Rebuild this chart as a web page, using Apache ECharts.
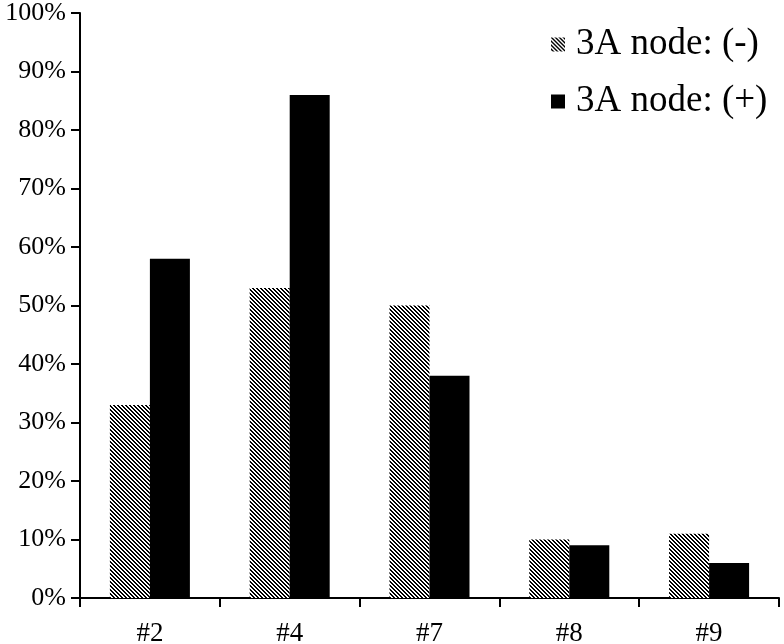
<!DOCTYPE html>
<html>
<head>
<meta charset="utf-8">
<script src="https://cdn.jsdelivr.net/npm/echarts@6/dist/echarts.min.js"></script>
<style>
html,body{margin:0;padding:0;background:#fff;}
#chart{width:784px;height:644px;}
</style>
</head>
<body>
<div id="chart"></div>
<script>
const categories = ['#2', '#4', '#7', '#8', '#9'];
const seriesNames = ['3A node: (-)', '3A node: (+)'];
const negValues = [33, 53, 50, 10, 11];
const posValues = [58, 86, 38, 9, 6];
const yTicks = [0, 10, 20, 30, 40, 50, 60, 70, 80, 90, 100];

function hatch() {
  const c = document.createElement('canvas');
  c.width = 4; c.height = 4;
  const ctx = c.getContext('2d');
  ctx.fillStyle = '#fff';
  ctx.fillRect(0, 0, 4, 4);
  ctx.fillStyle = '#000';
  for (let x = 0; x < 4; x++) {
    for (let y = 0; y < 4; y++) {
      if ((((x - y) % 4) + 4) % 4 < 2) ctx.fillRect(x, y, 1, 1);
    }
  }
  return c;
}
const hatchPattern = { image: hatch(), repeat: 'repeat' };

const font = '"Liberation Serif", "Times New Roman", serif';
const chart = echarts.init(document.getElementById('chart'), null, { renderer: 'canvas' });
chart.setOption({
  animation: false,
  backgroundColor: '#fff',
  grid: { left: 80, top: 13, right: 5, bottom: 46, containLabel: false, outerBoundsMode: 'none' },
  legend: {
    orient: 'vertical',
    left: 546,
    top: 19,
    itemWidth: 14,
    itemHeight: 14,
    itemGap: 16,
    icon: 'rect',
    data: seriesNames,
    textStyle: { fontFamily: font, fontSize: 37, color: '#000', lineHeight: 41, padding: [0, 0, 0, 6] }
  },
  xAxis: {
    type: 'category',
    data: categories,
    axisLine: { lineStyle: { color: '#000', width: 2 } },
    axisTick: { show: true, length: 9, lineStyle: { color: '#000', width: 2 } },
    axisLabel: { fontFamily: font, fontSize: 27, color: '#000', margin: 22 }
  },
  yAxis: {
    type: 'value',
    min: yTicks[0],
    max: yTicks[yTicks.length - 1],
    interval: yTicks[1] - yTicks[0],
    splitLine: { show: false },
    axisLine: { show: true, lineStyle: { color: '#000', width: 2 } },
    axisTick: { show: true, length: 9, lineStyle: { color: '#000', width: 2 } },
    axisLabel: { fontFamily: font, fontSize: 26, color: '#000', margin: 14, formatter: '{value}%' }
  },
  series: [
    { name: seriesNames[0], type: 'bar', data: negValues, barWidth: 40, barGap: '0%', itemStyle: { color: hatchPattern } },
    { name: seriesNames[1], type: 'bar', data: posValues, barWidth: 40, barGap: '0%', itemStyle: { color: '#000' } }
  ]
});
</script>
</body>
</html>
